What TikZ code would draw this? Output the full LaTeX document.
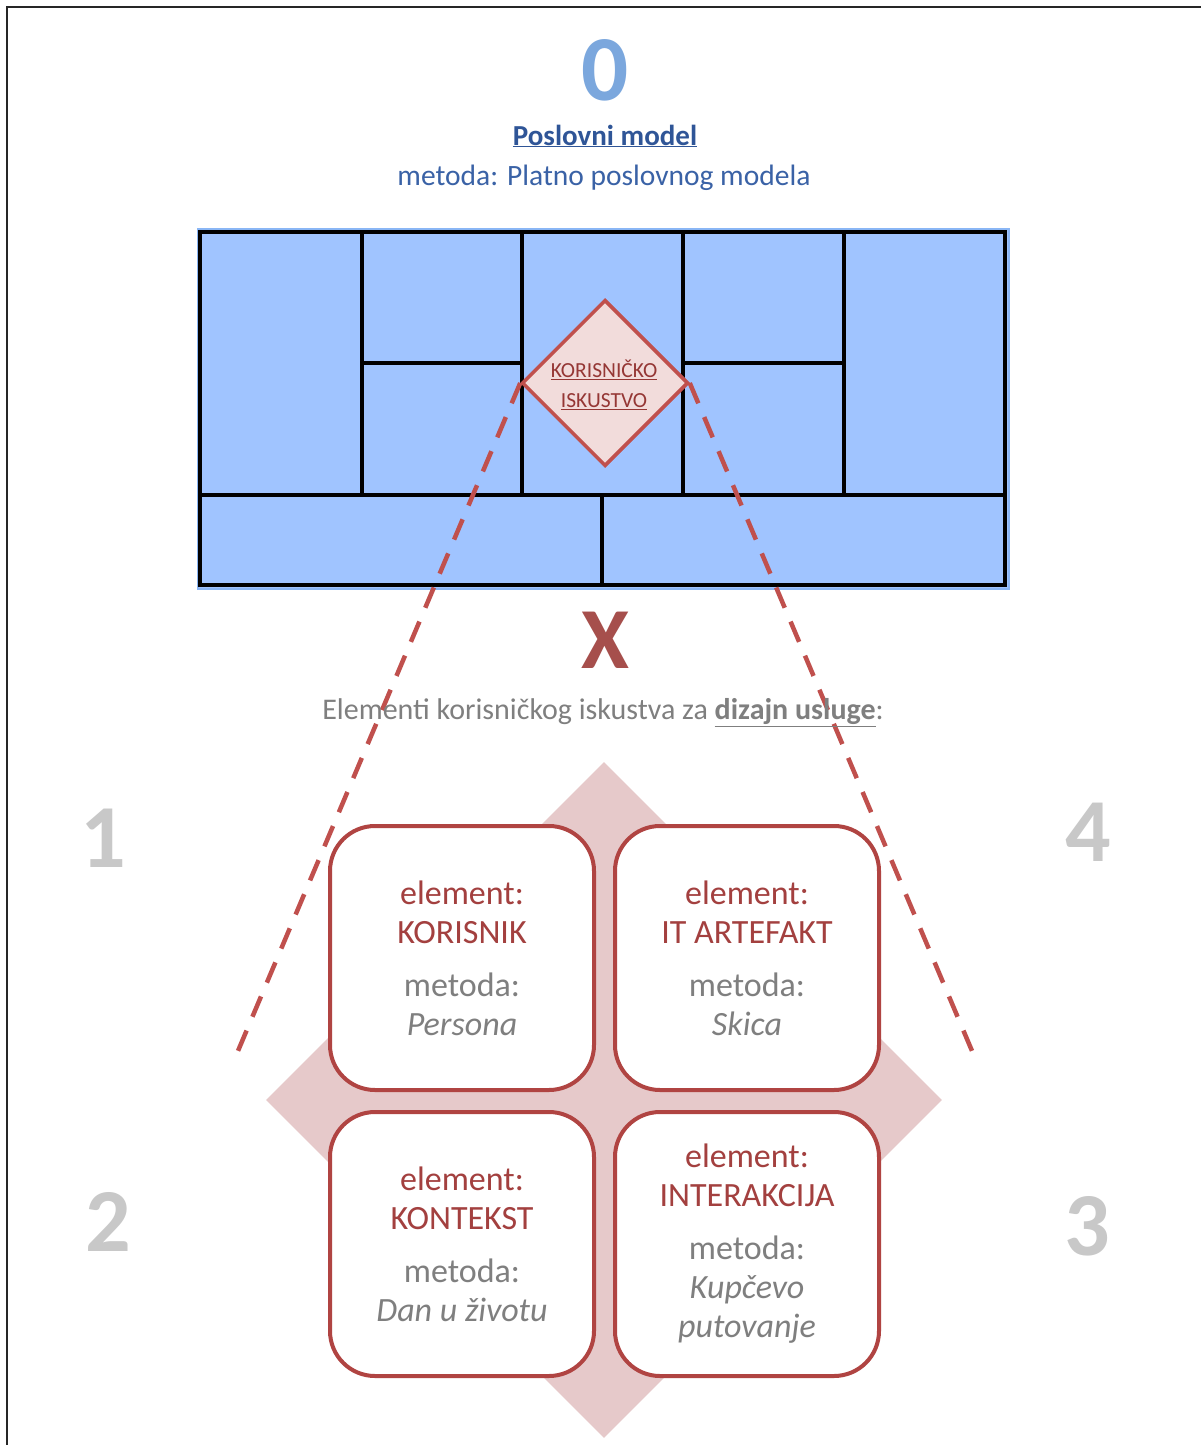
\documentclass[tikz,border=0pt]{standalone}
\usepackage{fontspec}
\setmainfont{Carlito}
\usetikzlibrary{shapes.geometric}
\definecolor{zeroblue}{HTML}{7BA7DD}
\definecolor{titleblue}{HTML}{2F5597}
\definecolor{subblue}{HTML}{3A62A6}
\definecolor{canvasblue}{HTML}{A0C4FF}
\definecolor{canvasedge}{HTML}{8AB6F5}
\definecolor{uxfill}{HTML}{F2DCDB}
\definecolor{uxred}{HTML}{C0504D}
\definecolor{uxtext}{HTML}{953735}
\definecolor{xred}{HTML}{A64F4C}
\definecolor{elgray}{HTML}{7F7F7F}
\definecolor{numgray}{HTML}{C8C8C8}
\definecolor{bgpink}{HTML}{E6C9CA}
\definecolor{boxred}{HTML}{B04442}
\definecolor{elred}{HTML}{A3403F}
\newcommand{\elline}[1]{\textcolor{elred}{#1}}
\newcommand{\meline}[1]{\textcolor{elgray}{#1}}
\begin{document}
\begin{tikzpicture}[x=1pt,y=-1pt,
  canvasline/.style={draw=black,line width=4.5pt},
  bignum/.style={font=\fontsize{90}{90}\selectfont\bfseries,text=numgray,inner sep=0pt},
  elbox/.style={draw=boxred,line width=4pt,fill=white,rounded corners=45pt,minimum width=264pt,minimum height=264pt,align=center,font=\fontsize{34}{39}\selectfont,inner sep=0pt},
  zoomline/.style={draw=uxred,line width=4.5pt,dash pattern=on 22pt off 15pt},
  uxdia/.style={diamond,fill=uxfill,draw=uxred,line width=3.5pt,minimum width=166pt,minimum height=166pt,inner sep=0pt}
]
\useasboundingbox (0,0) rectangle (1201,1445);
\fill[white] (0,0) rectangle (1201,1445);
% frame
\draw[line width=2.5pt,black!85] (7,1445) -- (7,7) -- (1201,7);

% header
\node[font=\fontsize{93}{93}\selectfont\bfseries,text=zeroblue,inner sep=0pt] (zero) at (605,70) {0};
\node[font=\fontsize{29}{34}\selectfont\bfseries,text=titleblue,inner sep=0pt] (title) at (605,136) {\underline{Poslovni model}};
\node[font=\fontsize{29.5}{34}\selectfont,text=subblue,inner sep=0pt] (sub) at (604,178) {metoda: Platno poslovnog modela};

% business model canvas
\fill[canvasblue,draw=canvasedge,line width=1.5pt] (198,229) rectangle (1009,589);
\draw[canvasline] (200,232) rectangle (1005,585);
\draw[canvasline] (200,495) -- (1005,495);
\draw[canvasline] (362,232) -- (362,495);
\draw[canvasline] (522,232) -- (522,495);
\draw[canvasline] (683,232) -- (683,495);
\draw[canvasline] (844,232) -- (844,495);
\draw[canvasline] (362,363) -- (522,363);
\draw[canvasline] (683,363) -- (844,363);
\draw[canvasline] (602,495) -- (602,585);

% background diamond
\node[diamond,fill=bgpink,minimum width=676pt,minimum height=676pt,inner sep=0pt] (bg) at (604,1100) {};

% zoom lines
\coordinate (lend) at (235,1058);
\coordinate (rend) at (975,1058);
\node[uxdia] (ux) at (605,383) {};
\draw[zoomline] (ux.west) -- (lend);
\draw[zoomline] (ux.east) -- (rend);
\node[uxdia] (ux2) at (605,383) {};
\node[font=\fontsize{21.5}{30}\selectfont,text=uxtext,align=center,inner sep=0pt] (uxt) at (604,385) {\underline{KORISNIČKO}\\\underline{ISKUSTVO}};

% X and caption
\node[font=\fontsize{87}{87}\selectfont\bfseries,text=xred,inner sep=0pt] (xx) at (605,640) {X};
\node[font=\fontsize{30}{34}\selectfont,text=elgray,inner sep=0pt] (cap) at (603,713) {Elementi korisničkog iskustva za \textbf{\underline{dizajn usluge}}:};

% numbers
\node[bignum] (n1) at (103,838) {1};
\node[bignum] (n4) at (1088,832) {4};
\node[bignum] (n2) at (108,1222) {2};
\node[bignum] (n3) at (1087,1226) {3};

% element boxes
\node[elbox] (b1) at (462,958) {\elline{element:}\\\elline{KORISNIK}\\[14pt]\meline{metoda:}\\\meline{\itshape Persona}};
\node[elbox] (b2) at (747,958) {\elline{element:}\\\elline{IT ARTEFAKT}\\[14pt]\meline{metoda:}\\\meline{\itshape Skica}};
\node[elbox] (b3) at (462,1244) {\elline{element:}\\\elline{KONTEKST}\\[14pt]\meline{metoda:}\\\meline{\itshape Dan u životu}};
\node[elbox] (b4) at (747,1244) {\elline{element:}\\\elline{INTERAKCIJA}\\[14pt]\meline{metoda:}\\\meline{\itshape Kupčevo}\\\meline{\itshape putovanje}};
\end{tikzpicture}
\end{document}
